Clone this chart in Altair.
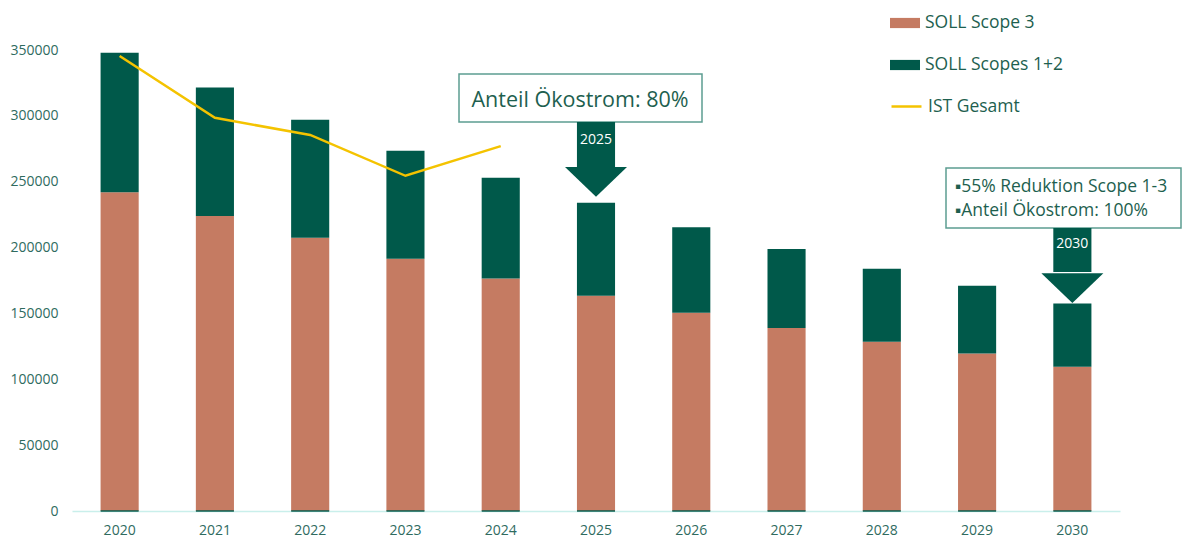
import altair as alt
import pandas as pd

years = ["2020", "2021", "2022", "2023", "2024", "2025", "2026", "2027", "2028", "2029", "2030"]
scope3 = [242000, 224000, 207500, 191500, 176500, 163500, 150500, 139000, 128500, 119500, 109500]
scope12 = [106000, 97500, 89500, 82000, 76500, 70500, 65000, 60000, 55500, 51500, 48000]
ist_years = ["2020", "2021", "2022", "2023", "2024"]
ist_values = [345500, 298500, 285500, 254500, 277000]

S3 = "SOLL Scope 3"
S12 = "SOLL Scopes 1+2"
IST = "IST Gesamt"

SALMON = "#c57b62"
DARK = "#00594a"
YELLOW = "#f4c300"
TEXT = "#1e5f4f"
AXISTXT = "#2f6b5f"
BOXSTROKE = "#5c9d91"
FONT = "Open Sans"

rows = []
for y, a, b in zip(years, scope3, scope12):
    rows.append({"year": y, "series": S3, "value": a, "ord": 0})
    rows.append({"year": y, "series": S12, "value": b, "ord": 1})
bars_df = pd.DataFrame(rows)
base_df = pd.DataFrame({"year": years, "zero": [0] * len(years)})
ist_df = pd.DataFrame({"year": ist_years, "value": ist_values, "series": [IST] * len(ist_years)})

arrows_df = pd.DataFrame({
    "year": ["2025", "2030"],
    "shaft_top": [295400, 214900],
    "shaft_bottom": [261200, 181500],
    "head_y": [249800, 169300],
    "label_y": [281700, 202700],
})

xenc = alt.X("year:N", sort=years, title=None,
             scale=alt.Scale(paddingInner=0.6, paddingOuter=0.3),
             axis=alt.Axis(labelAngle=0, ticks=False, domainColor="#c9efeb", domainWidth=1.5,
                           labelPadding=12, labelFontSize=14, labelColor=AXISTXT, labelFont=FONT))
yscale = alt.Scale(domain=[0, 350000], nice=False)

bar_path = "M-1,-0.34L1,-0.34L1,0.34L-1,0.34Z"

bars = alt.Chart(bars_df).mark_bar().encode(
    x=xenc,
    y=alt.Y("value:Q", stack="zero", scale=yscale, title=None,
            axis=alt.Axis(grid=False, domain=False, ticks=False, labelPadding=14,
                          values=[0, 50000, 100000, 150000, 200000, 250000, 300000, 350000],
                          format="d", labelFontSize=14, labelColor=AXISTXT, labelFont=FONT)),
    color=alt.Color("series:N", scale=alt.Scale(domain=[S3, S12], range=[SALMON, DARK]),
                    legend=alt.Legend(orient="none", legendX=818, legendY=-42, title=None,
                                      symbolType=bar_path, symbolSize=900, symbolStrokeWidth=0,
                                      labelFontSize=17.5, labelColor=TEXT, labelFont=FONT,
                                      rowPadding=18, labelOffset=5, padding=0)),
    order=alt.Order("ord:Q"),
)

base_tick = alt.Chart(base_df).mark_tick(color=DARK, size=38, thickness=2).encode(
    x=alt.X("year:N", sort=years),
    y=alt.Y("zero:Q", scale=yscale),
)

line = alt.Chart(ist_df).mark_line(strokeWidth=2.5).encode(
    x=alt.X("year:N", sort=years),
    y=alt.Y("value:Q", scale=yscale),
    stroke=alt.Stroke("series:N", scale=alt.Scale(domain=[IST], range=[YELLOW]),
                      legend=alt.Legend(orient="none", legendX=818, legendY=40, title=None,
                                        symbolType="stroke", symbolSize=900, symbolStrokeWidth=2.5,
                                        labelFontSize=17.5, labelColor=TEXT, labelFont=FONT,
                                        labelOffset=5, padding=0)),
)

box1 = alt.Chart(base_df.head(1)).mark_rect(fill="white", stroke=BOXSTROKE, strokeWidth=1.5).encode(
    x=alt.value(387), x2=alt.value(630),
    y=alt.datum(331800, scale=yscale), y2=alt.datum(295400),
)
box1_text = alt.Chart(base_df.head(1)).mark_text(
    text="Anteil Ökostrom: 80%", font=FONT, fontSize=21.5, color=TEXT,
    align="center", baseline="middle"
).encode(x=alt.value(508), y=alt.datum(311300, scale=yscale))

box2 = alt.Chart(base_df.head(1)).mark_rect(fill="white", stroke=BOXSTROKE, strokeWidth=1.5).encode(
    x=alt.value(874), x2=alt.value(1109),
    y=alt.datum(260400, scale=yscale), y2=alt.datum(214900),
)
box2_t1 = alt.Chart(base_df.head(1)).mark_text(
    text="▪55% Reduktion Scope 1-3", font=FONT, fontSize=17.5, color=TEXT,
    align="left", baseline="middle"
).encode(x=alt.value(883), y=alt.datum(246000, scale=yscale))
box2_t2 = alt.Chart(base_df.head(1)).mark_text(
    text="▪Anteil Ökostrom: 100%", font=FONT, fontSize=17.5, color=TEXT,
    align="left", baseline="middle"
).encode(x=alt.value(883), y=alt.datum(227800, scale=yscale))

shaft = alt.Chart(arrows_df).mark_bar(color=DARK).encode(
    x=alt.X("year:N", sort=years),
    y=alt.Y("shaft_top:Q", scale=yscale),
    y2="shaft_bottom:Q",
)
head = alt.Chart(arrows_df).mark_point(
    shape="M-1,-0.48L1,-0.48L0,0.48Z", filled=True, size=3844, color=DARK, opacity=1, strokeWidth=0
).encode(
    x=alt.X("year:N", sort=years),
    y=alt.Y("head_y:Q", scale=yscale),
)
arrow_text = alt.Chart(arrows_df).mark_text(
    font=FONT, fontSize=14, color="white", align="center", baseline="middle"
).encode(
    x=alt.X("year:N", sort=years),
    y=alt.Y("label_y:Q", scale=yscale),
    text="year:N",
)

chart = alt.layer(
    bars, base_tick, line, box1, box1_text, box2, box2_t1, box2_t2, shaft, head, arrow_text
).properties(
    width=1048, height=461,
    padding={"left": 64, "top": 42, "right": 62, "bottom": 30},
    autosize=alt.AutoSizeParams(type="none"),
).configure_view(stroke=None)

chart.save("out.html", embed_options={"renderer": "svg", "actions": False})
